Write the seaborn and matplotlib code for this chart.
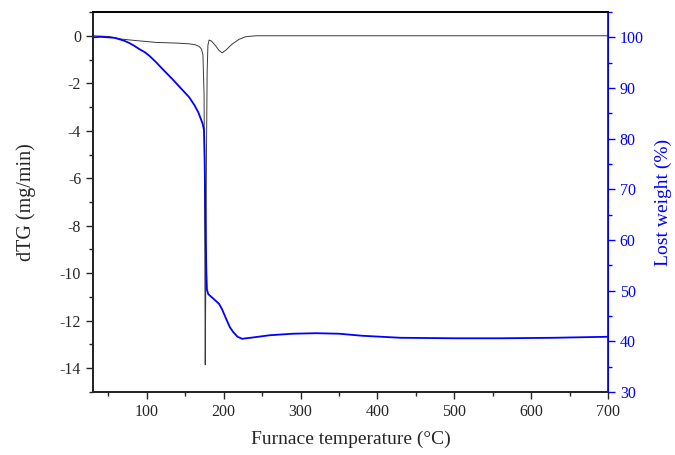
import matplotlib
matplotlib.use("Agg")
import matplotlib.pyplot as plt
import seaborn as sns
import pandas as pd
from matplotlib.ticker import MultipleLocator

# dTG curve (left axis)
dtg_temp = [30, 50, 67, 85, 112, 140, 155, 163, 168, 171, 173, 174.5, 175.3, 176.0,
            176.8, 177.6, 178.5, 179.5, 181, 184, 189.5, 194, 198, 203, 211, 220,
            228.7, 242, 300, 400, 500, 600, 700]
dtg_val = [0, -0.03, -0.14, -0.2, -0.28, -0.31, -0.34, -0.38, -0.45, -0.55, -0.8, -2.5,
           -8.0, -13.85, -10.0, -5.0, -1.5, -0.4, -0.18, -0.22, -0.42, -0.62, -0.72,
           -0.6, -0.35, -0.15, -0.04, 0, 0, 0, 0, 0, 0]

# TG curve (right axis)
tg_temp = [30, 40, 50, 58, 65, 71, 77, 84, 90, 97, 103, 112, 122, 133, 144, 155, 162,
           167, 170, 172.5, 174.4, 175.3, 176.0, 176.7, 177.4, 178.2, 180, 186, 194,
           198, 203, 208, 212, 218, 224, 240, 260, 290, 320, 350, 380, 430, 500, 560,
           630, 700]
tg_val = [100, 100.1, 100, 99.9, 99.6, 99.3, 98.9, 98.3, 97.7, 97.1, 96.4, 95.1, 93.5,
          91.8, 90.0, 88.2, 86.6, 85.2, 84.0, 83.0, 81.7, 76, 68, 60, 54, 50.2, 49.3,
          48.5, 47.4, 46.3, 44.5, 42.8, 41.9, 40.9, 40.5, 40.8, 41.2, 41.5, 41.6,
          41.5, 41.1, 40.7, 40.6, 40.6, 40.7, 40.9]

sns.set_style("ticks")
plt.rcParams['font.family'] = ['Liberation Serif', 'DejaVu Serif']
plt.rcParams['axes.unicode_minus'] = False

fig = plt.figure(figsize=(6.75, 4.55), dpi=100)
ax = fig.add_axes([0.1378, 0.1385, 0.7629, 0.8351])
ax2 = ax.twinx()

dtg_df = pd.DataFrame({"T": dtg_temp, "dTG": dtg_val})
tg_df = pd.DataFrame({"T": tg_temp, "TG": tg_val})

sns.lineplot(data=dtg_df, x="T", y="dTG", ax=ax, color="#3a3a3a", linewidth=0.7,
             sort=False, estimator=None)
sns.lineplot(data=tg_df, x="T", y="TG", ax=ax2, color="#0000ff", linewidth=1.3,
             sort=False, estimator=None)

ax.set_xlim(30, 700)
ax.set_ylim(-15, 1)
ax2.set_ylim(30, 105)

ax.xaxis.set_major_locator(MultipleLocator(100))
ax.xaxis.set_minor_locator(MultipleLocator(50))
ax.yaxis.set_major_locator(MultipleLocator(2))
ax.yaxis.set_minor_locator(MultipleLocator(1))
ax2.yaxis.set_major_locator(MultipleLocator(10))
ax2.yaxis.set_minor_locator(MultipleLocator(5))

ax.set_xticks([100, 200, 300, 400, 500, 600, 700])
ax.set_xlabel("Furnace temperature (°C)", fontsize=14, labelpad=8)
ax.set_ylabel("dTG (mg/min)", fontsize=14.5, labelpad=17)
ax2.set_ylabel("Lost weight (%)", fontsize=14, color="#0000ff", labelpad=8)

for a in (ax, ax2):
    a.tick_params(which="major", length=5, width=1, direction="out", labelsize=11.5)
    a.tick_params(which="minor", length=3, width=1, direction="out")
ax.tick_params(axis="y", which="both", right=False)
ax.tick_params(axis="x", which="both", top=False)
ax2.tick_params(axis="y", which="both", colors="#0000ff", labelcolor="#0000ff")

for s in ["left", "bottom", "top"]:
    ax.spines[s].set_color("black")
    ax.spines[s].set_linewidth(1.2)
ax2.spines["right"].set_color("#0000ff")
ax2.spines["right"].set_linewidth(1.2)
ax2.spines["top"].set_color("black")
for s in ["top", "left", "bottom"]:
    ax2.spines[s].set_linewidth(1.2)

fig.savefig("out.png", dpi=100)
